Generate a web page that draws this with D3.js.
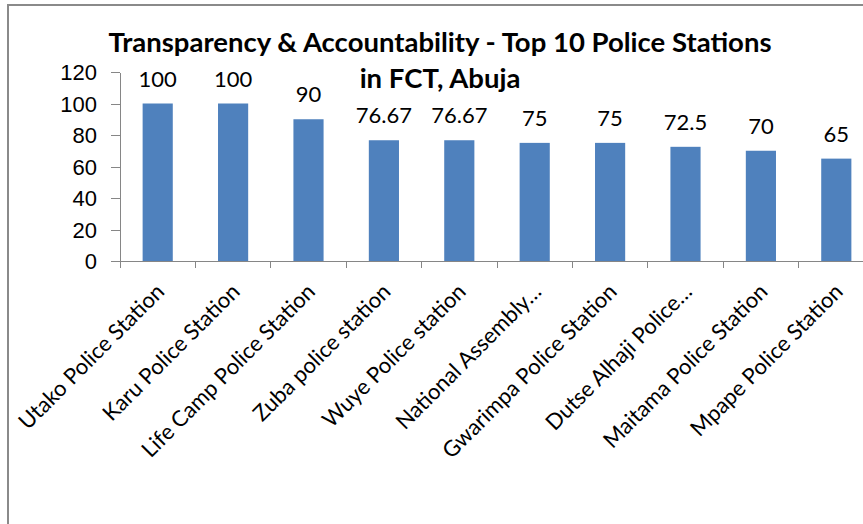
<!DOCTYPE html>
<html lang="en">
<head>
    <meta charset="UTF-8">
    <title>Transparency & Accountability - Top 10 Police Stations in FCT, Abuja</title>
    <script src="https://d3js.org/d3.v7.min.js"></script>
    <style>
        html, body {
            margin: 0;
            padding: 0;
            background: #ffffff;
            overflow: hidden;
        }

        #chart svg {
            display: block;
            font-family: Lato, "Open Sans", sans-serif;
        }

        .axis path,
        .axis line {
            stroke: #868686;
            stroke-width: 1;
            shape-rendering: crispEdges;
        }

        .axis text {
            fill: #000000;
            font-size: 22px;
        }

        .bar {
            fill: #4f81bd;
        }

        .bar-label {
            fill: #000000;
            font-size: 22px;
            text-anchor: middle;
        }

        .title {
            fill: #000000;
            font-weight: bold;
            font-size: 27.5px;
            text-anchor: middle;
        }
    </style>
</head>
<body>
    <div id="chart"></div>
    <script>
        const stations = [
            "Utako Police Station",
            "Karu Police Station",
            "Life Camp Police Station",
            "Zuba police station",
            "Wuye Police station",
            "National Assembly…",
            "Gwarimpa Police Station",
            "Dutse Alhaji Police…",
            "Maitama Police Station",
            "Mpape Police Station"
        ];
        const scores = [100, 100, 90, 76.67, 76.67, 75, 75, 72.5, 70, 65];
        const yTicks = [0, 20, 40, 60, 80, 100, 120];
        const titleLines = ["Transparency & Accountability - Top 10 Police Stations", "in FCT, Abuja"];

        const W = 863, H = 524;
        // plot area (the original picture is cropped on the right)
        const plot = { left: 120, right: 874, top: 72, bottom: 261 };

        const svg = d3.select("#chart")
            .append("svg")
            .attr("width", W)
            .attr("height", H);

        // chart frame
        svg.append("rect")
            .attr("x", 8)
            .attr("y", 5)
            .attr("width", W + 20)
            .attr("height", H + 20)
            .attr("fill", "none")
            .attr("stroke", "#8a8a8a")
            .attr("stroke-width", 2);

        const x = d3.scaleBand()
            .domain(stations)
            .range([plot.left, plot.right])
            .paddingInner(0.6)
            .paddingOuter(0.3);

        const y = d3.scaleLinear()
            .domain([0, 120])
            .range([plot.bottom, plot.top]);

        // y axis
        const yAxis = svg.append("g")
            .attr("class", "axis y-axis")
            .attr("transform", `translate(${plot.left},0)`)
            .call(d3.axisLeft(y).tickValues(yTicks).tickSize(9).tickSizeOuter(0).tickPadding(14));
        yAxis.selectAll("text").attr("dy", "0.36em");

        // x axis line + category boundary ticks
        const xAxis = svg.append("g")
            .attr("class", "axis x-axis")
            .attr("transform", `translate(0,${plot.bottom})`);
        xAxis.append("line")
            .attr("x1", plot.left)
            .attr("x2", plot.right)
            .attr("y1", 0)
            .attr("y2", 0);
        const step = x.step();
        xAxis.selectAll(".bound")
            .data(d3.range(stations.length + 1))
            .join("line")
            .attr("class", "bound")
            .attr("x1", i => plot.left + i * step)
            .attr("x2", i => plot.left + i * step)
            .attr("y1", 0)
            .attr("y2", 7);

        // rotated category labels
        svg.append("g")
            .selectAll("text")
            .data(stations)
            .join("text")
            .attr("class", "axis-label")
            .attr("transform", d => `translate(${x(d) + x.bandwidth() / 2 + 8},${plot.bottom + 32}) rotate(-45)`)
            .attr("text-anchor", "end")
            .attr("font-size", 22)
            .attr("fill", "#000")
            .text(d => d);

        // bars
        const data = stations.map((s, i) => ({ name: s, value: scores[i] }));
        svg.append("g")
            .selectAll("rect")
            .data(data)
            .join("rect")
            .attr("class", "bar")
            .attr("x", d => x(d.name))
            .attr("width", x.bandwidth())
            .attr("y", d => y(d.value))
            .attr("height", d => y(0) - y(d.value));

        // value labels
        svg.append("g")
            .selectAll("text")
            .data(data)
            .join("text")
            .attr("class", "bar-label")
            .attr("x", d => x(d.name) + x.bandwidth() / 2)
            .attr("y", d => y(d.value) - 17)
            .text(d => d.value);

        // title
        svg.append("g")
            .selectAll("text")
            .data(titleLines)
            .join("text")
            .attr("class", "title")
            .attr("x", 440)
            .attr("y", (d, i) => 52 + i * 36)
            .text(d => d);
    </script>
</body>
</html>
